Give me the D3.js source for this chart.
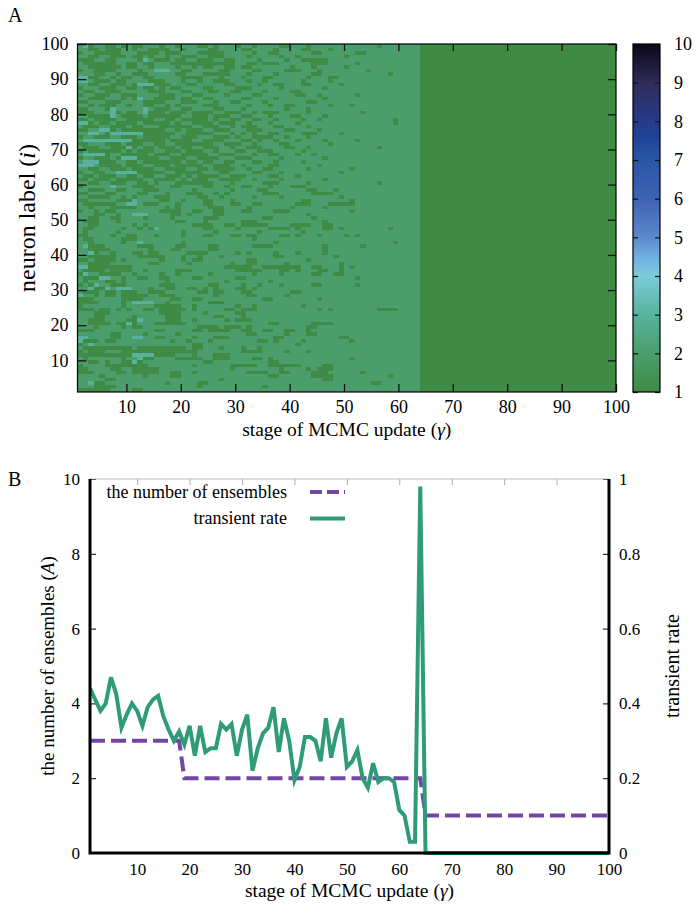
<!DOCTYPE html>
<html>
<head>
<meta charset="utf-8">
<script src="https://cdn.jsdelivr.net/npm/d3@7"></script>
<style>
  body { margin: 0; background: #fff; }
  text { font-family: "Liberation Serif", "Times New Roman", serif; fill: #000; }
</style>
</head>
<body>
<div id="chart"></div>
<script>
// ---- data ----
// panel A: state of each neuron (rows 100 -> 1) for MCMC stages 1..63,
// 1 = dark green, 2 = light green, 3 = cyan. From stage 64 on every cell is 1.
const settledStage = 64;
const mapRows = [
  "1333333332 2211111112 2111122122 2111122212 2222212222 1222222222 222",
  "2312211212 1122212212 2211212221 2212222112 2212222222 2222212222 222",
  "2211211122 1221111221 2222112222 1122221222 2112221222 2222222222 222",
  "1221111122 2111121112 2211111222 2212211222 2221122222 2112222222 222",
  "2211221112 1121221221 1122111222 2122222122 1222222221 2222222222 222",
  "1112211222 2132111211 2211122112 2221222212 2111112222 2222222222 222",
  "2111111221 1211222111 1111111112 2112111222 2221112222 2122222222 222",
  "2211111121 1221222212 2121122112 1122222221 2221222221 2222222222 222",
  "1221111222 2122333221 1222221122 2211222211 1222122222 2221222222 222",
  "2221122122 1112222211 2221111122 2122221222 2221122222 2222222122 222",
  "3311221211 2211222221 1112221222 1222112222 2212221122 2222222222 222",
  "3321112112 2221112221 2212211122 2122122222 2122221222 2222222222 222",
  "2211221112 1333111222 1122222112 2221221122 2112222212 2222222222 222",
  "1222111221 1211212112 2221122221 1122222122 2222212222 2222222222 222",
  "2112211122 2221112221 1222112211 2222122221 1222222222 2222222222 222",
  "1221112211 1222211122 2112222122 2211222222 1122122222 2122222222 222",
  "2211122212 1322111121 1221122222 1122221222 2222212222 2222222222 222",
  "1122211122 2211112221 1122212211 2222122222 2211222222 2222222222 222",
  "2212111221 2211221212 2221112222 2122212211 2222221222 1222222222 222",
  "1122213222 2232111221 1222211222 1222222212 2212222222 2222222222 222",
  "1112223121 1231112111 2111122111 2212111222 2212222222 2212222222 222",
  "2211113211 1121111112 2111211122 1122212221 1222212222 2222222222 222",
  "1121111221 1111221121 1111212211 2211221222 2122122222 2222222212 222",
  "3312112111 1211111212 2111121112 2122212222 1222222222 2222222212 222",
  "2111221112 1122211111 1221112212 1112221122 2212222222 2222222222 222",
  "1122331211 1111112212 1112211122 2111222211 2222122222 2222222222 222",
  "2233213333 3311111122 1111122212 1212211222 2111222212 2222222222 222",
  "1221112211 1211111221 1122211121 2211112212 2212222222 2222222222 222",
  "2333333333 1111112111 1221111222 1121221222 1222212222 2122222222 222",
  "1122211121 1122112211 1111122111 2212222112 2222221222 2222222222 222",
  "2111221113 1211211121 1221112212 2111222211 2212222222 2222212222 222",
  "1211111121 2111221112 1112212221 1221112222 2122222222 2222222222 222",
  "2333312211 1112111221 1111221112 2212211222 1221222222 2222222222 222",
  "1221112133 3111122111 2211112221 1122222122 2222212222 2222222222 222",
  "2333111221 1211111112 1121122112 2211221222 2122222222 2222222222 222",
  "3332111121 1122111211 1112211122 1222211222 2222122222 2222222222 222",
  "2211221112 1111221111 2211211112 2122112222 2212222222 1222222222 222",
  "1221122333 3111112211 1112221122 2211222122 2222222212 2222222222 222",
  "2112111221 1211221112 1211112211 1222211222 1222222222 2222222222 222",
  "1121112111 1122111121 2111221111 2212222122 2222212222 2222222222 222",
  "2211221112 2112122211 1111122212 2222111222 2212222222 2222212222 222",
  "1222223222 1111222112 2221122122 1122212221 1122222222 2222222222 222",
  "2211122112 2211122222 2122222212 2221122222 2211222122 2222222222 222",
  "1122211222 2112221222 1112212122 2222111222 2221111222 2222222222 222",
  "2211112212 1222111222 2211221222 2212222122 2222222212 2222222222 222",
  "1122222111 3222211221 2221122212 2222222222 2112222222 1222222222 222",
  "2111111223 3211122212 2221122211 2211222222 1112221111 1222222222 222",
  "2212221111 1222221212 2222111222 2122222221 2222212222 2222222222 222",
  "1221211222 2222211112 2112211222 1122221112 2222222222 1222222222 222",
  "2221122122 3332222112 1222211222 2222222222 2212222222 2222222222 222",
  "2211221122 2212222122 2221112222 2222112222 2221222222 2222222222 222",
  "2111222122 2222222211 2221222222 1112222222 2222212222 2222222222 222",
  "2211222222 1212222222 2111122112 1111122221 1112211222 2222222222 222",
  "2112222212 2121322222 2221122221 2222211112 1222211212 2222222122 222",
  "2122222122 2222222221 2222212222 2221222222 2122222222 2222222222 222",
  "1122221221 1222122221 2221122211 2112222112 1222122221 2122222222 222",
  "2112222211 1222222222 2222222222 2212222222 2222222222 2222222222 222",
  "2212222212 2322222221 2222222222 2222221222 2222222222 2222222212 222",
  "2311122222 2111222211 2222112222 2211112222 2222212222 2212222222 222",
  "2211112222 2221222112 2222112222 2222222222 2222212222 2222222222 222",
  "2231221222 1121122222 1111222221 2122221222 1222212222 2222222222 222",
  "2211111222 2111112221 2212221222 2222221122 2222222122 2222222222 222",
  "1121111212 2222212221 2112222222 2112222222 2212222222 2222222222 222",
  "2211112222 2221122222 1222222212 2112222212 2222222212 2222222222 222",
  "3311111111 2222222222 2222222111 1122111111 1221122212 1222222222 222",
  "2111121111 2212222211 1222222221 1111222112 1222112212 2222222222 222",
  "1322111122 1222212212 2222122222 2212222122 2221122112 2222222222 222",
  "2111332212 2112211222 2112222221 1222222222 2222222222 2122222222 222",
  "2122211212 2222221222 2222222122 2222212222 2222222222 2222222222 222",
  "1213221112 2222211122 2222112222 1221222122 2221122222 2122222222 222",
  "2231132333 2221221122 1121212221 1212222222 2222222222 2222222222 222",
  "2111211211 1221112222 2211211222 1122222221 1222222222 2222222222 222",
  "3221211211 1112211122 2222212222 2112222212 2222222222 2222222222 222",
  "1112222211 1122222112 2112222222 2222112222 2222122222 2222222222 222",
  "1111222212 3333221222 2222111222 2222222222 2222222222 2222222222 222",
  "1222222212 2222111112 2122222221 2212222222 2122222222 2222222222 222",
  "1112112121 2211211111 2122222112 1112222222 2222121222 2222211112 222",
  "2221112222 2222211112 2221222221 1222222222 2222222222 2222222222 222",
  "2221122222 1222221112 2222211222 1222222222 2222222222 2222222222 222",
  "2211122221 1322221112 2122222121 1122222222 2222222222 2222222222 222",
  "2211112113 1222111111 2222222222 2222211222 2221111222 2222222222 222",
  "2221222212 1122222222 2211112111 2122222222 2211222222 2222222222 222",
  "1112222222 2222112222 2112111122 1122112211 2212222222 2222222222 222",
  "2222221122 2212222212 2222222222 2112222212 2211222222 2222222222 222",
  "3322221122 3322112222 2122211122 2222221122 2222222211 2222222222 222",
  "3111211222 2222222122 1222122222 2221121222 2122222222 1222222222 222",
  "1232222222 2222222222 2112222222 2222222222 1222222222 2222222222 222",
  "2111111111 2111111111 2112221222 1221222222 2222222222 2222222222 222",
  "1211122211 1111111111 1122222222 1111222212 2212222222 2222222222 222",
  "1111111111 3333111122 2122211122 2222222222 2222222222 2222222222 222",
  "2122222212 2311222211 1112211122 2211212222 2222222222 1222222222 222",
  "2211212211 3122222222 2221122222 2222211222 2222222222 2222222222 222",
  "1222211111 1112222222 2122222211 1112211111 1222211222 2222222222 222",
  "1122221122 1111122222 2222222212 2222222122 2212111222 2222222222 222",
  "1112222112 1111122112 2122222222 2111122112 2221112222 2212222222 222",
  "2222122222 2212222112 2222222222 2222211222 2221111222 2222222122 222",
  "2222211222 2222222222 2222221222 2222222222 2222211222 2222222222 222",
  "2231122222 2222221222 2211222222 2222222222 2222222222 2222112222 222",
  "2221111222 2222222222 2212222222 2222122222 2222222222 2222222222 222",
  "1111112222 1122222222 2222222222 2222222222 2222222222 2222222222 222"
];

// colour bar of panel A
const paletteStops  = [1, 2, 3, 4, 4.5, 5, 6, 7, 7.6, 8, 9, 10];
const paletteColors = ["#3f8a45", "#4b9e6c", "#58b29e", "#7ccbd9", "#6fb0e3", "#5b88cc",
                       "#3e62b2", "#2a56a6", "#1e4396", "#283a8a", "#2e2c58", "#0a0618"];
const colorbarTicks = [1, 2, 3, 4, 5, 6, 7, 8, 9, 10];
const mapTicks = [10, 20, 30, 40, 50, 60, 70, 80, 90, 100];

// panel B
const stages = d3.range(1, 101);
const ensembles = [
  3, 3, 3, 3, 3, 3, 3, 3, 3, 3, 3, 3, 3, 3, 3, 3, 3, 3, 2, 2,
  2, 2, 2, 2, 2, 2, 2, 2, 2, 2, 2, 2, 2, 2, 2, 2, 2, 2, 2, 2,
  2, 2, 2, 2, 2, 2, 2, 2, 2, 2, 2, 2, 2, 2, 2, 2, 2, 2, 2, 2,
  2, 2, 2, 2, 1, 1, 1, 1, 1, 1, 1, 1, 1, 1, 1, 1, 1, 1, 1, 1,
  1, 1, 1, 1, 1, 1, 1, 1, 1, 1, 1, 1, 1, 1, 1, 1, 1, 1, 1, 1
];
const transientRate = [
  0.44, 0.41, 0.38, 0.40, 0.47, 0.425, 0.335, 0.37, 0.40, 0.38,
  0.34, 0.39, 0.41, 0.42, 0.365, 0.33, 0.30, 0.325, 0.29, 0.34,
  0.26, 0.34, 0.27, 0.28, 0.28, 0.345, 0.33, 0.345, 0.26, 0.33,
  0.37, 0.22, 0.28, 0.32, 0.335, 0.39, 0.27, 0.36, 0.30, 0.195,
  0.23, 0.31, 0.31, 0.30, 0.245, 0.36, 0.255, 0.32, 0.36, 0.23,
  0.245, 0.275, 0.20, 0.175, 0.24, 0.19, 0.20, 0.20, 0.19, 0.115,
  0.10, 0.03, 0.03, 0.98, 0, 0, 0, 0, 0, 0,
  0, 0, 0, 0, 0, 0, 0, 0, 0, 0,
  0, 0, 0, 0, 0, 0, 0, 0, 0, 0,
  0, 0, 0, 0, 0, 0, 0, 0, 0, 0
];
const leftTicks = [0, 2, 4, 6, 8, 10];
const rightTicks = [0, 0.2, 0.4, 0.6, 0.8, 1];
const stageTicks = [10, 20, 30, 40, 50, 60, 70, 80, 90, 100];

const purple = "#7346a6", green = "#2e9c78";

// ---- svg ----
const svg = d3.select("#chart").append("svg")
    .attr("width", 696)
    .attr("height", 912);

// strip d3's default font attributes so the page font applies
function plain(g) {
  g.attr("font-size", null).attr("font-family", null);
  g.select(".domain").remove();
}

// ================= panel A =================
const A = {left: 77.5, right: 616, top: 44, bottom: 392};
const xA = d3.scaleLinear().domain([1, 100]).range([A.left, A.right]);
const yA = d3.scaleLinear().domain([1, 100]).range([A.bottom, A.top]);
const color = d3.scaleLinear().domain(paletteStops).range(paletteColors);

svg.append("clipPath").attr("id", "clipA")
  .append("rect")
    .attr("x", A.left).attr("y", A.top)
    .attr("width", A.right - A.left).attr("height", A.bottom - A.top);

// build the cells
const cells = [];
mapRows.forEach((row, k) => {
  const neuron = 100 - k;
  const s = row.replace(/ /g, "");
  for (let stage = 1; stage <= 100; stage++) {
    let v = 1;
    if (stage < settledStage) v = +(s[stage - 1] || 2);
    cells.push({neuron, stage, v});
  }
});

svg.append("g")
    .attr("clip-path", "url(#clipA)")
    .attr("shape-rendering", "crispEdges")
  .selectAll("rect")
  .data(cells)
  .enter().append("rect")
    .attr("x", d => xA(d.stage))
    .attr("y", d => yA(d.neuron + 1))
    .attr("width", xA(2) - xA(1) + 0.4)
    .attr("height", yA(1) - yA(2) + 0.4)
    .attr("fill", d => color(d.v));

// ticks (inward, mirrored)
const gA = svg.append("g").style("font-size", "18px");
gA.append("g")
    .attr("transform", `translate(0,${A.bottom})`)
    .call(d3.axisBottom(xA).tickValues(mapTicks).tickSize(-8).tickPadding(8))
    .call(plain);
gA.append("g")
    .attr("transform", `translate(0,${A.top})`)
    .call(d3.axisTop(xA).tickValues(mapTicks).tickSize(-7).tickFormat(""))
    .call(plain);
gA.append("g")
    .attr("transform", `translate(${A.left},0)`)
    .call(d3.axisLeft(yA).tickValues(mapTicks).tickSize(-9).tickPadding(9))
    .call(plain);
gA.append("g")
    .attr("transform", `translate(${A.right},0)`)
    .call(d3.axisRight(yA).tickValues(mapTicks).tickSize(-8).tickFormat(""))
    .call(plain);
gA.selectAll(".tick line").attr("stroke", "#111").attr("stroke-width", 1.3);

svg.append("rect")
    .attr("x", A.left).attr("y", A.top)
    .attr("width", A.right - A.left).attr("height", A.bottom - A.top)
    .attr("fill", "none").attr("stroke", "#000").attr("stroke-width", 1.2);

// colour bar
const CB = {left: 633, right: 660, top: 44, bottom: 392};
const yCB = d3.scaleLinear().domain([1, 10]).range([CB.bottom, CB.top]);
const grad = svg.append("defs").append("linearGradient")
    .attr("id", "cbGrad").attr("x1", 0).attr("y1", 1).attr("x2", 0).attr("y2", 0);
paletteStops.forEach((s, i) => {
  grad.append("stop")
      .attr("offset", (s - 1) / 9)
      .attr("stop-color", paletteColors[i]);
});
svg.append("rect")
    .attr("x", CB.left).attr("y", CB.top)
    .attr("width", CB.right - CB.left).attr("height", CB.bottom - CB.top)
    .attr("fill", "url(#cbGrad)");
const gCB = svg.append("g").style("font-size", "18px");
gCB.append("g")
    .attr("transform", `translate(${CB.right},0)`)
    .call(d3.axisRight(yCB).tickValues(colorbarTicks).tickSize(-5).tickPadding(14))
    .call(plain);
gCB.append("g")
    .attr("transform", `translate(${CB.left},0)`)
    .call(d3.axisLeft(yCB).tickValues(colorbarTicks).tickSize(-5).tickFormat(""))
    .call(plain);
gCB.selectAll(".tick line").attr("stroke", "#111").attr("stroke-width", 1.2);
svg.append("rect")
    .attr("x", CB.left).attr("y", CB.top)
    .attr("width", CB.right - CB.left).attr("height", CB.bottom - CB.top)
    .attr("fill", "none").attr("stroke", "#000").attr("stroke-width", 1.2);

// labels A
svg.append("text").attr("x", 8).attr("y", 22).style("font-size", "20px").text("A");
const xlabA = svg.append("text")
    .attr("x", (A.left + A.right) / 2).attr("y", 436)
    .attr("text-anchor", "middle").style("font-size", "19.5px");
xlabA.append("tspan").text("stage of MCMC update (");
xlabA.append("tspan").style("font-style", "italic").text("γ");
xlabA.append("tspan").text(")");
const ylabA = svg.append("text")
    .attr("transform", `translate(35,${(A.top + A.bottom) / 2}) rotate(-90)`)
    .attr("text-anchor", "middle").style("font-size", "24px");
ylabA.append("tspan").text("neuron label (");
ylabA.append("tspan").style("font-style", "italic").text("i");
ylabA.append("tspan").text(")");

// ================= panel B =================
const B = {left: 90, right: 609, top: 479, bottom: 853};
const xB = d3.scaleLinear().domain([1, 100]).range([B.left, B.right]);
const yB = d3.scaleLinear().domain([0, 10]).range([B.bottom, B.top]);
const yB2 = d3.scaleLinear().domain([0, 1]).range([B.bottom, B.top]);

svg.append("clipPath").attr("id", "clipB")
  .append("rect")
    .attr("x", B.left).attr("y", B.top - 2)
    .attr("width", B.right - B.left).attr("height", B.bottom - B.top + 4);

const gB = svg.append("g").style("font-size", "17px");
gB.append("g")
    .attr("transform", `translate(0,${B.bottom})`)
    .call(d3.axisBottom(xB).tickValues(stageTicks).tickSize(0).tickPadding(10))
    .call(plain);
gB.append("g")
    .attr("transform", `translate(0,${B.top})`)
    .call(d3.axisTop(xB).tickValues(stageTicks).tickSize(-6).tickFormat(""))
    .call(plain)
    .call(g => g.selectAll(".tick line").attr("stroke", "#aaa"));
gB.append("g")
    .attr("transform", `translate(${B.left},0)`)
    .call(d3.axisLeft(yB).tickValues(leftTicks).tickSize(-6).tickPadding(10))
    .call(plain);
gB.append("g")
    .attr("transform", `translate(${B.right},0)`)
    .call(d3.axisRight(yB2).tickValues(rightTicks).tickSize(-6).tickPadding(10)
      .tickFormat(d => d === 0 || d === 1 ? d3.format("d")(d) : d3.format(".1f")(d)))
    .call(plain);

// top border light, others thick black
svg.append("line")
    .attr("x1", B.left).attr("x2", B.right).attr("y1", B.top).attr("y2", B.top)
    .attr("stroke", "#bbb").attr("stroke-width", 1);

const lines = svg.append("g").attr("clip-path", "url(#clipB)");
lines.append("path")
    .datum(stages)
    .attr("fill", "none")
    .attr("stroke", purple)
    .attr("stroke-width", 4)
    .attr("stroke-dasharray", "15,6")
    .attr("d", d3.line().x(s => xB(s)).y((s, i) => yB(ensembles[i])));
lines.append("path")
    .datum(stages)
    .attr("fill", "none")
    .attr("stroke", green)
    .attr("stroke-width", 4)
    .attr("stroke-linejoin", "miter")
    .attr("d", d3.line().x(s => xB(s)).y((s, i) => yB2(transientRate[i])));

svg.append("path")
    .attr("d", `M${B.left},${B.top}V${B.bottom}H${B.right}V${B.top}`)
    .attr("fill", "none").attr("stroke", "#000").attr("stroke-width", 3);

// legend
const legend = svg.append("g").style("font-size", "18px");
const legendItems = [
  {label: "the number of ensembles", stroke: purple, dash: "12,5"},
  {label: "transient rate", stroke: green, dash: null}
];
legendItems.forEach((item, i) => {
  const y = 492 + i * 26.5;
  legend.append("text")
      .attr("x", 287).attr("y", y + 5.5)
      .attr("text-anchor", "end")
      .text(item.label);
  legend.append("line")
      .attr("x1", 310).attr("x2", 345).attr("y1", y).attr("y2", y)
      .attr("stroke", item.stroke).attr("stroke-width", 4)
      .attr("stroke-dasharray", item.dash);
});

// labels B
svg.append("text").attr("x", 8).attr("y", 486).style("font-size", "20px").text("B");
const xlabB = svg.append("text")
    .attr("x", (B.left + B.right) / 2).attr("y", 897)
    .attr("text-anchor", "middle").style("font-size", "19.5px");
xlabB.append("tspan").text("stage of MCMC update (");
xlabB.append("tspan").style("font-style", "italic").text("γ");
xlabB.append("tspan").text(")");
const ylabB = svg.append("text")
    .attr("transform", `translate(54,${(B.top + B.bottom) / 2}) rotate(-90)`)
    .attr("text-anchor", "middle").style("font-size", "19px");
ylabB.append("tspan").text("the number of ensembles (");
ylabB.append("tspan").style("font-style", "italic").text("A");
ylabB.append("tspan").text(")");
svg.append("text")
    .attr("transform", `translate(679,${(B.top + B.bottom) / 2}) rotate(-90)`)
    .attr("text-anchor", "middle").style("font-size", "20px")
    .text("transient rate");
</script>
</body>
</html>
